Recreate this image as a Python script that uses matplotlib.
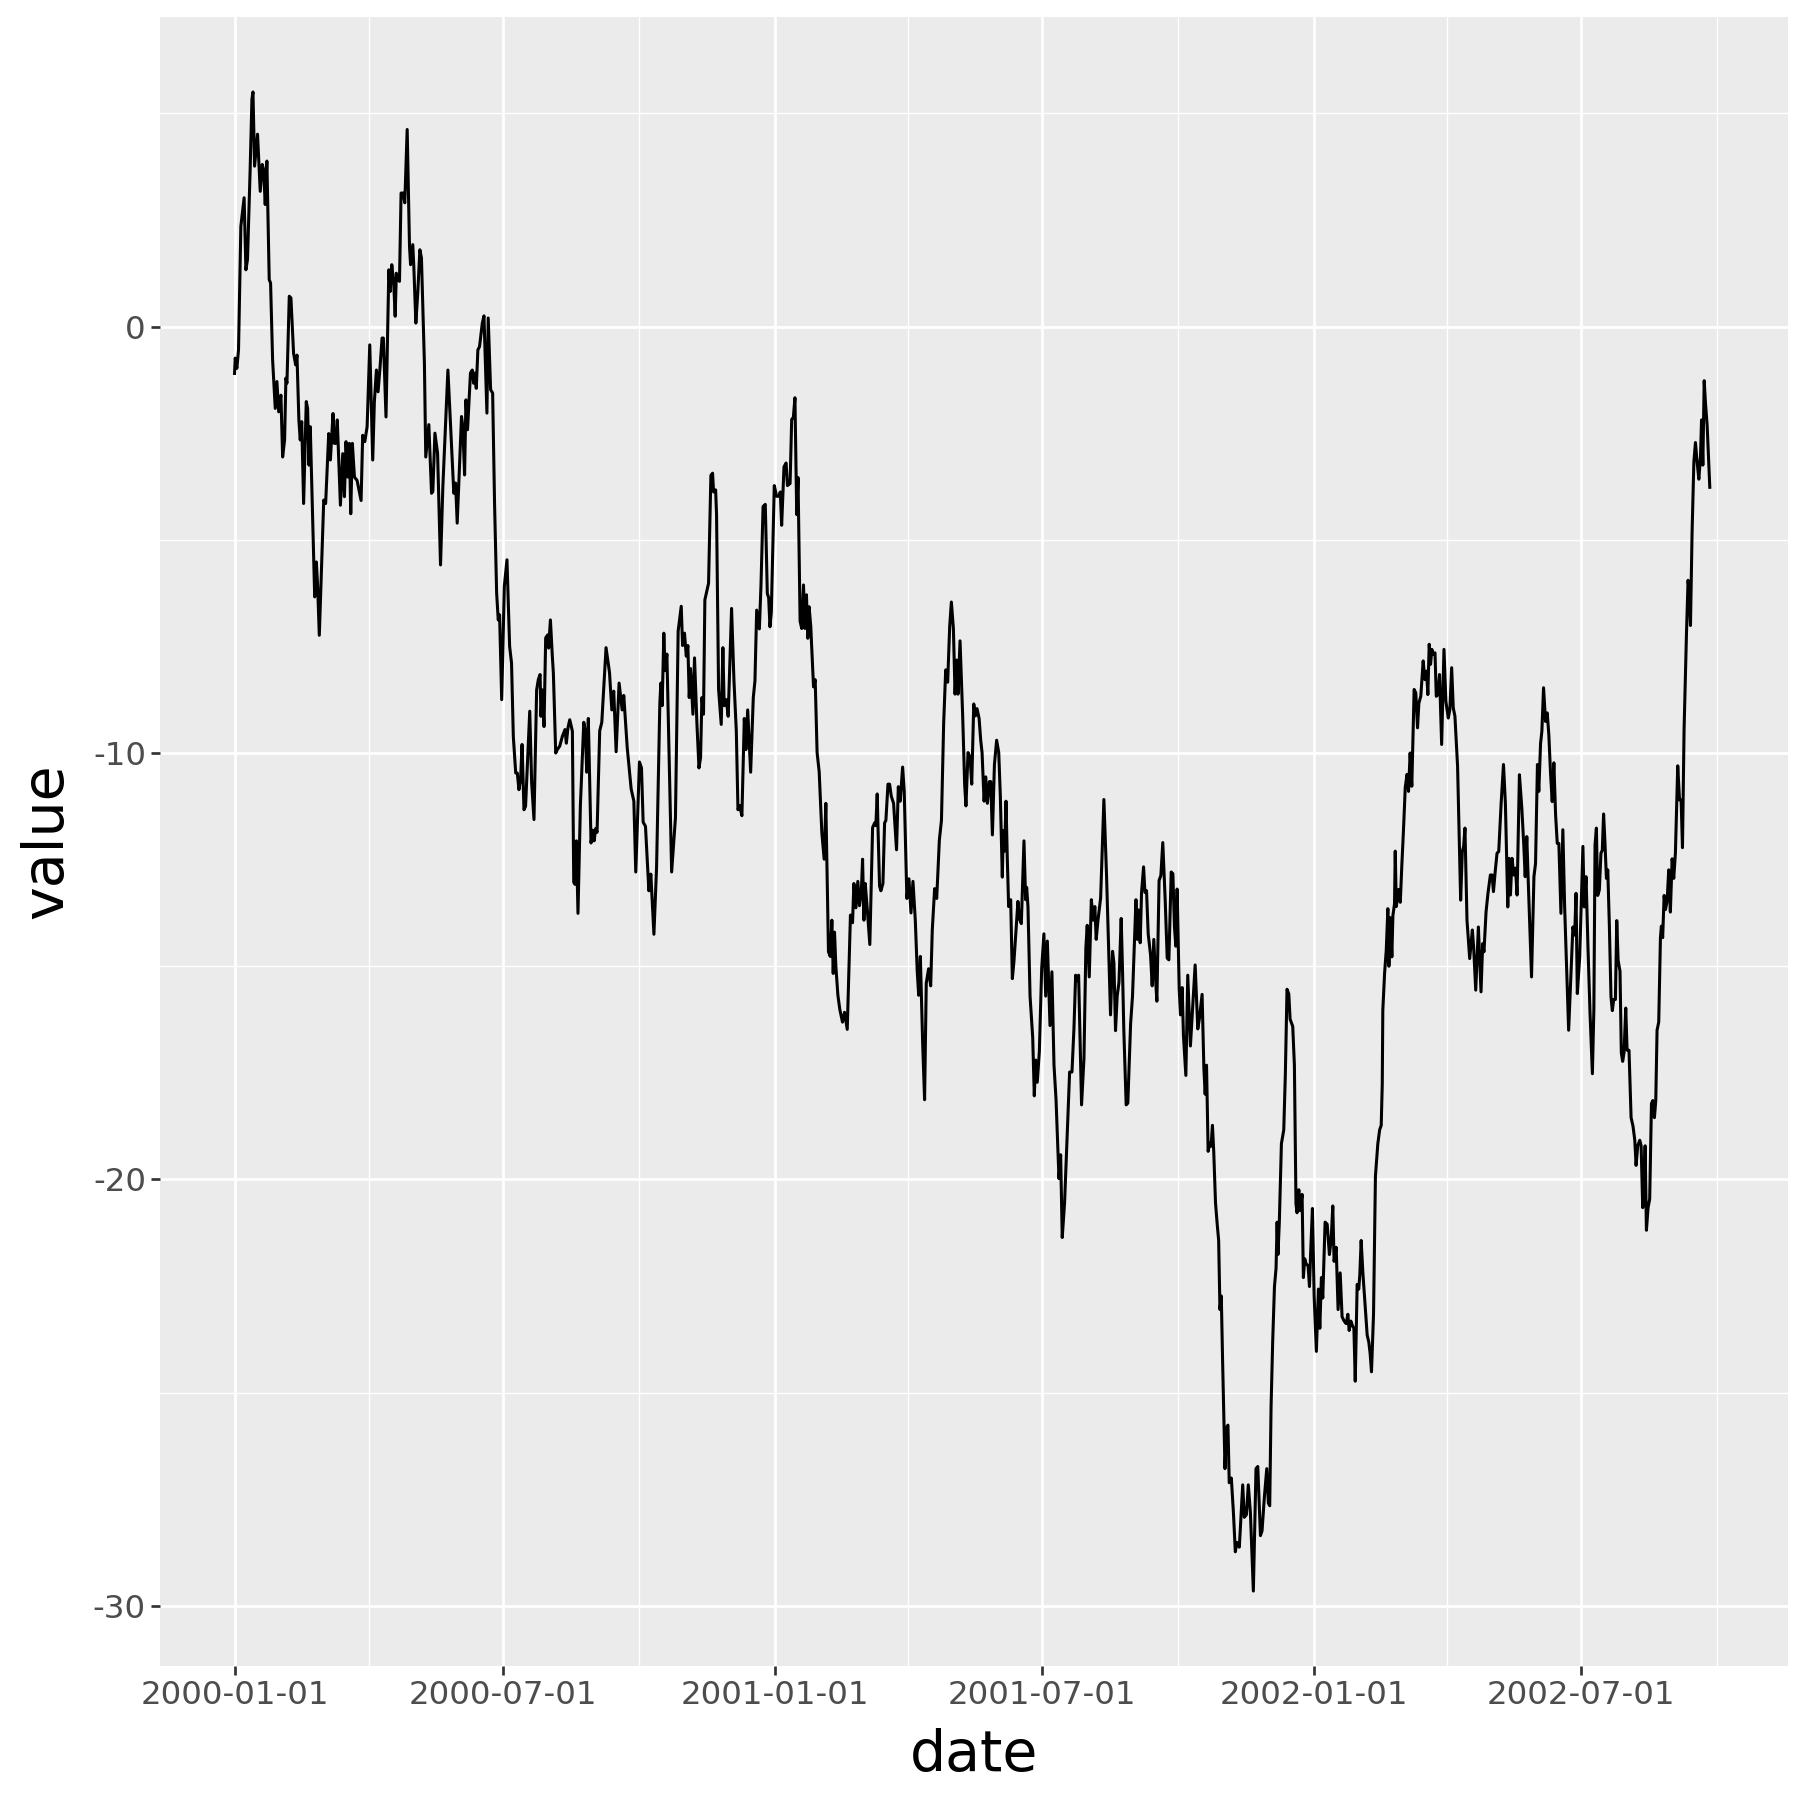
import numpy as np
import matplotlib
matplotlib.use("Agg")
import matplotlib.pyplot as plt
import matplotlib.dates as mdates

plt.rcParams['font.family'] = ['DejaVu Sans']
plt.rcParams['axes.unicode_minus'] = False

START = np.datetime64('2000-01-01')

# ---- data: days since 2000-01-01 and value ----
days_a = [0.0, 0.5, 1.6, 2.7, 4.3, 6.5, 7.7, 8.8, 10.6, 11.8, 12.5, 13.6, 15.6, 17.4, 18.8, 19.7,
          20.8, 21.9, 23.5, 24.4, 25.8, 27.6, 28.7, 29.9, 31.4, 32.6, 33.9, 34.8, 35.5, 37.1, 38.2,
          40.0, 41.4, 42.3, 43.6, 44.5, 45.5, 46.8, 48.6, 49.5, 50.4, 51.3, 54.3, 55.4, 56.3, 57.4,
          60.4, 61.7, 63.8, 64.9, 66.7, 67.6, 68.5, 69.6, 71.7, 73.3, 74.4, 75.5, 76.7, 77.8, 78.7,
          79.8, 81.2, 83.0, 85.7, 86.8, 88.2, 89.8, 91.6, 93.6, 94.7, 96.1, 97.2, 98.6, 99.9, 100.8,
          102.6, 104.5, 105.4, 106.5, 107.8, 108.8, 109.6, 110.6, 111.7, 112.8, 114.2, 115.3, 116.9,
          118.5, 119.2, 120.7, 121.4, 122.8, 124.1, 125.5, 126.6, 128.6, 129.5]
vals_a = [-1.10, -0.74, -0.98, -0.55, 2.35, 3.02, 1.33, 1.57, 3.68, 5.33, 5.50, 3.76, 4.51, 3.17, 3.80, 3.68,
          2.86, 3.88, 1.10, 1.02, -0.78, -1.92, -1.29, -2.00, -1.61, -3.06, -2.66, -1.21, -1.33, 0.71, 0.67,
          -0.63, -0.90, -0.67, -2.19, -2.66, -2.23, -4.15, -1.76, -1.92, -3.25, -2.35, -6.34, -5.52, -6.10, -7.24,
          -4.07, -4.15, -2.51, -3.13, -2.04, -2.74, -2.74, -2.19, -4.19, -2.98, -3.99, -2.70, -3.53, -2.74, -4.39,
          -2.74, -3.53, -3.61, -4.08, -2.55, -2.70, -2.35, -0.43, -3.13, -1.76, -1.02, -1.53, -0.94, -0.27, -0.27,
          -2.12, 1.33, 0.82, 1.45, 1.02, 0.24, 1.25, 1.10, 1.06, 3.13, 3.13, 2.90, 4.62,
          1.88, 1.45, 1.92, 1.41, 0.08, 0.78, 1.80, 1.61, -0.86, -3.06]

days_b = [131.6, 133.4, 134.3, 135.7, 137.5, 139.5, 141.1, 144.5, 148.5, 149.7, 150.8, 153.7, 154.6,
          155.8, 156.7, 157.8, 159.8, 161.0, 161.9, 162.8, 163.7, 164.8, 165.9, 167.8, 168.9, 170.9,
          171.8, 173.4, 174.8, 176.1, 177.5, 178.6, 179.5, 180.9, 182.7, 184.5, 186.3, 187.6, 188.8,
          190.4, 191.5, 192.6, 193.7, 194.7, 196.0, 197.1, 199.9, 201.2, 202.8, 204.6, 205.7, 206.9,
          207.5, 208.4, 209.6, 210.7, 212.1, 212.7, 213.9, 215.2, 215.9, 217.5, 218.6, 220.2, 222.0,
          223.8, 224.7, 225.8, 227.0, 228.8, 229.7, 230.6, 231.5, 232.6, 234.2, 236.5, 237.6, 238.5,
          239.6, 241.4, 242.6, 243.5, 244.6, 245.5, 247.3, 248.7, 251.6, 253.9, 255.5, 256.8, 258.4,
          260.4, 262.5, 263.6, 265.9, 268.6, 270.4, 271.7, 274.2, 275.6, 276.7, 278.3, 280.6, 281.9,
          284.0, 285.8, 288.0, 288.7, 289.6, 290.7, 291.6, 292.8, 296.0, 298.6, 300.4, 302.5, 303.4,
          304.7, 305.9, 307.0, 307.9, 308.8, 310.4, 311.5, 313.1, 314.5, 315.6, 316.5, 317.6, 318.5,
          321.0, 322.6, 323.7, 324.4, 325.8, 326.4, 327.8, 329.6, 330.7, 331.6, 333.0, 334.3, 336.6,
          338.2, 339.8, 340.9, 342.0, 343.6, 345.2, 346.3, 347.5, 349.5, 351.3, 352.4, 353.6, 355.4,
          356.5, 357.9, 359.4, 360.8, 361.7, 362.6, 363.5, 365.5]
vals_b = [-2.30, -3.91, -3.87, -2.50, -2.97, -5.59, -3.75, -1.02, -3.91, -3.67, -4.61, -2.11, -2.34,
          -3.48, -1.72, -2.42, -1.09, -1.02, -1.33, -1.09, -1.45, -0.55, -0.47, 0.08, 0.25, -2.03,
          0.20, -1.48, -1.56, -4.14, -6.25, -6.88, -6.76, -8.75, -6.09, -5.47, -7.50, -7.89, -9.61,
          -10.47, -10.47, -10.86, -10.63, -9.80, -11.33, -11.25, -9.02, -10.70, -11.56, -8.52, -8.28, -8.16,
          -9.14, -8.52, -9.38, -7.30, -7.23, -7.54, -6.88, -7.73, -8.13, -10.00, -9.92, -9.84, -9.61,
          -9.45, -9.77, -9.41, -9.22, -9.49, -13.03, -13.08, -12.06, -13.76, -11.23, -9.28, -9.48, -10.45,
          -9.19, -12.11, -11.81, -12.06, -11.77, -11.86, -9.48, -9.28, -7.53, -8.11, -8.99, -8.55, -9.97,
          -8.36, -8.99, -8.65, -9.87, -10.84, -11.13, -12.79, -10.21, -10.35, -11.62, -11.72, -13.23, -12.84,
          -14.25, -12.69, -8.85, -8.36, -8.89, -7.19, -8.07, -7.68, -12.79, -11.52, -7.14, -6.56, -7.48,
          -7.19, -7.73, -7.48, -8.70, -8.02, -9.09, -7.77, -9.28, -10.35, -10.11, -8.70, -9.09, -6.41,
          -6.02, -3.49, -3.44, -3.88, -3.83, -4.41, -8.51, -9.33, -7.53, -8.89, -8.75, -9.14, -6.61,
          -8.31, -9.48, -11.33, -11.23, -11.47, -9.19, -9.92, -8.99, -10.45, -8.70, -8.31, -6.65, -7.09,
          -6.07, -4.22, -4.17, -6.26, -6.36, -7.04, -6.70, -3.73]

days_c = [367.1, 368.7, 369.6, 370.5, 372.1, 373.5, 374.4, 376.2, 377.3, 378.4, 379.5, 380.7, 381.6,
          383.0, 384.1, 385.3, 386.2, 387.3, 388.2, 389.1, 390.2, 392.1, 393.2, 394.5, 395.9, 397.7,
          399.3, 400.4, 402.2, 403.4, 404.5, 405.4, 406.3, 407.2, 408.6, 409.9, 411.7, 413.1, 414.9,
          417.1, 418.5, 419.4, 420.8, 422.1, 423.2, 424.4, 425.3, 426.2, 427.1, 428.4, 430.2, 432.1,
          433.4, 434.3, 435.2, 435.7, 436.8, 437.7, 439.1, 440.2, 441.1, 442.5, 443.6, 444.7, 446.3,
          448.3, 449.5, 450.8, 452.4, 453.5, 455.3, 456.7, 458.1, 459.4, 461.0, 462.3, 463.3, 464.4,
          466.0, 467.3, 468.4, 470.0, 471.4, 472.5, 474.1, 475.5, 477.3, 478.7, 480.2, 481.6, 482.9,
          484.3, 485.4, 486.8, 487.9, 489.0, 489.9, 491.3, 493.1, 494.4, 495.3, 496.7, 498.1, 499.2,
          500.6, 501.7, 502.8, 504.2, 505.3, 506.2, 507.6, 508.7, 509.8, 511.2, 512.1, 513.2, 514.6,
          516.1, 517.5, 518.6, 519.9, 520.6, 521.5, 522.4, 523.3, 524.2, 525.6, 526.7, 527.8, 530.5,
          531.4, 532.8, 534.6, 535.7, 536.4, 537.3, 538.7, 540.5, 541.6, 542.5, 543.6, 545.0, 546.6,
          548.1, 549.3, 550.4, 552.2, 553.5, 554.9, 556.3, 558.3, 559.4, 560.5, 562.1, 563.9, 565.5,
          567.1, 568.4, 569.6, 570.7, 571.6, 573.6, 575.2, 576.5, 577.4, 578.8, 580.2, 581.5, 582.6,
          583.5, 584.7, 586.5, 588.7, 590.5, 593.2, 594.6, 595.5, 596.6, 597.7, 598.9, 600.4, 601.3,
          602.2, 603.8, 604.9, 606.8, 608.1, 610.4, 611.3, 612.2, 613.3, 614.2, 615.6, 616.5, 617.6,
          618.7, 620.3, 621.4, 622.5, 623.7, 624.6, 626.1, 627.3, 628.6, 630.2, 631.6, 632.7, 634.3,
          635.4, 636.5, 637.4, 638.3, 639.7, 640.6, 641.7, 642.6, 644.2, 645.5, 647.3, 648.7, 650.5,
          652.3, 653.4, 655.2, 656.4, 657.3, 658.2, 659.3, 660.4, 661.3, 662.2, 663.1, 664.3, 665.4]
vals_c = [-3.98, -3.98, -3.88, -4.66, -3.29, -3.20, -3.73, -3.68, -2.18, -2.13, -1.67, -4.41, -3.54,
          -6.91, -7.08, -6.06, -7.08, -6.29, -7.31, -6.57, -7.03, -8.45, -8.28, -9.99, -10.44, -11.87,
          -12.49, -11.18, -14.66, -14.77, -13.92, -15.17, -14.20, -15.00, -15.68, -16.02, -16.31, -16.08, -16.48,
          -13.80, -13.98, -13.06, -13.63, -13.01, -13.58, -13.29, -12.49, -13.92, -13.06, -13.63, -14.49, -11.75,
          -11.64, -11.70, -10.96, -11.70, -13.12, -13.23, -13.06, -11.64, -11.58, -10.73, -10.73, -11.01, -11.18,
          -12.27, -10.79, -11.13, -10.33, -10.90, -13.41, -12.95, -13.75, -13.01, -13.92, -15.11, -15.68, -14.77,
          -16.82, -18.13, -15.40, -15.06, -15.46, -14.15, -13.18, -13.41, -12.04, -11.58, -9.30, -8.05, -8.34,
          -7.03, -6.46, -7.08, -8.62, -7.82, -8.62, -7.37, -9.13, -10.73, -11.24, -9.99, -10.10, -10.73,
          -8.85, -9.13, -8.96, -9.19, -9.70, -9.99, -11.13, -10.56, -11.18, -10.67, -10.67, -11.92, -10.27,
          -9.70, -9.99, -11.01, -12.91, -11.82, -12.30, -11.13, -12.47, -13.60, -13.44, -15.29, -14.89, -13.48,
          -13.88, -14.00, -12.06, -13.44, -13.15, -13.60, -15.70, -16.67, -18.04, -17.20, -17.72, -17.00, -15.05,
          -14.24, -15.70, -14.41, -16.39, -15.13, -17.32, -18.12, -19.98, -19.42, -21.36, -20.55, -18.93, -17.48,
          -17.48, -16.47, -15.21, -15.34, -15.21, -18.25, -17.16, -14.57, -14.04, -15.25, -13.44, -13.92, -13.60,
          -14.37, -13.92, -13.40, -11.09, -12.87, -16.14, -14.65, -14.93, -16.51, -15.70, -15.38, -13.88, -15.05,
          -16.51, -18.25, -18.21, -16.35, -15.70, -13.44, -14.37, -13.68, -14.45, -13.27, -12.67, -13.27, -13.23,
          -14.24, -14.73, -15.46, -14.37, -15.30, -15.82, -12.99, -12.87, -12.10, -13.44, -14.81, -14.85, -12.79,
          -12.83, -14.08, -14.53, -13.19, -15.54, -16.14, -15.50, -16.63, -17.56, -15.21, -16.87, -16.02, -14.97,
          -16.47, -16.22, -15.66, -17.40, -18.00, -17.32, -19.34, -19.14, -19.22, -18.73, -19.34, -20.55, -21.04]

days_d = [666.4, 667.3, 668.2, 669.1, 670.7, 671.8, 672.7, 673.6, 675.0, 676.4, 677.7, 678.8, 680.4,
          682.7, 683.8, 685.2, 686.5, 687.9, 689.9, 691.7, 692.9, 694.7, 695.8, 697.4, 699.0, 700.1,
          701.0, 701.9, 703.0, 704.2, 705.3, 706.0, 706.6, 707.5, 708.9, 710.5, 711.6, 712.7, 713.9,
          714.8, 716.6, 717.7, 718.8, 719.5, 720.7, 721.6, 722.9, 723.8, 724.7, 725.6, 727.0, 727.9,
          728.8, 729.9, 731.1, 732.6, 734.0, 734.9, 736.0, 736.9, 738.5, 739.9, 741.4, 742.6, 743.7,
          744.6, 746.0, 747.3, 748.7, 750.0, 751.4, 752.8, 753.9, 754.8, 755.9, 757.1, 758.0, 758.9,
          760.2, 761.3, 762.0, 762.9, 764.1, 765.6, 767.0, 768.1, 769.0, 769.9, 771.3, 772.6, 774.2,
          775.4, 776.5, 777.2, 777.6, 778.8, 779.9, 781.0, 781.7, 782.6, 783.7, 784.4, 785.5, 786.0,
          786.7, 788.3, 789.4, 790.5, 791.6, 792.8, 794.0, 795.0]
vals_d = [-21.43, -23.05, -22.73, -24.24, -26.78, -25.81, -25.76, -27.11, -27.00, -27.81, -28.73, -28.51, -28.62,
          -27.16, -27.92, -27.86, -27.16, -27.81, -29.65, -26.78, -26.73, -28.35, -28.24, -27.43, -26.78, -27.59,
          -27.65, -25.32, -23.81, -22.51, -22.08, -21.00, -21.76, -21.00, -19.16, -18.84, -17.54, -15.54, -15.65,
          -16.24, -16.41, -17.32, -20.57, -20.78, -20.24, -20.73, -20.35, -22.30, -21.86, -21.97, -22.03, -22.51,
          -21.65, -20.68, -22.73, -24.03, -22.57, -23.49, -22.30, -22.78, -21.00, -21.05, -21.76, -21.43, -20.62,
          -21.92, -21.59, -23.05, -22.19, -23.22, -23.32, -23.38, -23.16, -23.54, -23.32, -23.43, -23.49, -24.73,
          -22.46, -22.57, -22.24, -21.43, -22.19, -22.95, -23.65, -23.81, -24.08, -24.51, -23.16, -19.92, -19.16,
          -18.84, -18.73, -17.76, -16.03, -15.16, -14.62, -13.65, -15.00, -13.86, -14.78, -13.81, -13.54, -12.30,
          -13.60, -13.20, -13.50, -12.60, -11.80, -10.80, -10.50, -10.90]

days_e = [796.1, 797.2, 798.8, 799.9, 801.1, 802.0, 803.3, 804.9, 806.1, 807.2, 808.1, 809.0, 809.9,
          810.8, 811.7, 812.9, 813.8, 814.9, 816.0, 817.4, 819.0, 820.3, 821.9, 823.0, 824.2, 825.3,
          826.4, 828.2, 829.4, 830.3, 831.4, 832.3, 833.2, 834.6, 836.4, 838.2, 839.1, 840.5, 842.3,
          844.1, 845.2, 846.1, 847.5, 848.8, 850.4, 851.6, 852.5, 853.6, 854.9, 856.1, 857.7, 859.3,
          860.6, 862.2, 863.1, 864.0, 865.1, 866.3, 867.4, 868.5, 870.1, 871.7, 873.1, 874.0, 875.1,
          876.0, 878.3, 879.9, 881.0, 882.3, 883.2, 884.4, 885.3, 886.4, 887.8, 888.9, 890.0, 891.2,
          892.3, 893.4, 894.6, 895.7, 896.8, 898.2, 899.5, 900.7, 903.4, 904.8, 906.3, 907.5, 908.4,
          909.3, 910.9, 912.0, 913.1, 914.0, 915.2, 916.5, 917.9, 919.5, 920.5, 921.3, 922.2, 923.1,
          924.2, 925.3, 926.2, 927.1, 928.0, 929.0, 929.9, 931.0, 932.1, 933.0, 933.9, 935.1, 936.0,
          936.9, 938.2, 939.1, 940.0, 940.9, 942.1, 943.0, 944.3, 945.7, 947.0, 948.2, 949.1, 950.2,
          951.6, 952.5, 953.6, 954.3, 955.2, 956.1, 957.2, 958.3, 959.5, 960.4, 961.5, 962.4, 963.3,
          964.4, 965.6, 966.2, 967.1, 968.1, 969.0, 970.1, 971.2, 972.3, 973.5, 974.6, 975.7, 977.3,
          978.5, 979.6, 980.5, 981.6, 983.2, 984.3, 985.0, 985.9, 987.0, 988.2, 989.3, 990.4, 991.6,
          992.7, 993.4, 994.3, 995.2, 996.1, 997.2, 999.0]
vals_e = [-10.00, -10.78, -8.51, -8.59, -9.41, -8.83, -8.67, -7.84, -8.28, -8.08, -8.63, -7.45, -7.92,
          -7.57, -7.69, -7.65, -8.67, -8.63, -8.16, -9.80, -7.57, -8.79, -9.18, -8.98, -8.00, -8.94,
          -9.14, -10.31, -12.12, -13.45, -12.31, -12.19, -11.76, -13.92, -14.82, -14.15, -14.55, -15.56, -14.08,
          -15.60, -14.47, -14.66, -13.72, -13.29, -12.86, -12.86, -13.25, -12.82, -12.35, -12.31, -11.18, -10.27,
          -11.18, -13.61, -12.47, -13.33, -12.47, -12.86, -12.70, -13.33, -10.51, -11.29, -12.19, -12.90, -11.96,
          -12.94, -15.25, -12.90, -12.59, -10.27, -10.90, -9.77, -9.49, -8.47, -9.26, -9.06, -9.57, -10.51,
          -11.14, -10.23, -11.45, -12.12, -12.12, -13.76, -11.80, -13.61, -16.50, -15.33, -14.08, -14.27, -13.29,
          -15.64, -14.78, -13.49, -12.19, -13.61, -12.90, -14.55, -16.11, -17.52, -16.00, -12.15, -11.76, -13.34,
          -13.21, -12.35, -12.28, -11.43, -12.09, -12.94, -12.74, -14.06, -15.71, -16.04, -15.78, -15.78, -13.93,
          -14.86, -15.12, -17.03, -17.23, -17.03, -15.98, -16.97, -16.97, -18.55, -18.75, -19.08, -19.67, -19.21,
          -19.08, -19.21, -20.66, -20.33, -19.21, -21.19, -20.66, -20.46, -18.22, -18.15, -18.55, -18.15, -16.50,
          -16.31, -14.33, -14.06, -14.33, -13.34, -13.67, -13.47, -12.74, -13.73, -12.48, -12.94, -12.35, -10.30,
          -11.10, -11.10, -12.22, -9.45, -7.20, -5.95, -6.21, -7.01, -4.83, -3.18, -2.72, -3.18, -3.58,
          -3.05, -2.19, -3.25, -1.27, -1.80, -2.32, -3.77]

x_major_ticks = ['2000-01-01', '2000-07-01', '2001-01-01', '2001-07-01', '2002-01-01', '2002-07-01']
x_minor_ticks = ['2000-04-01', '2000-10-01', '2001-04-01', '2001-10-01', '2002-04-01', '2002-10-01']
y_major_ticks = [-30, -20, -10, 0]
y_minor_ticks = [-25, -15, -5, 5]

days = np.concatenate([days_a, days_b, days_c, days_d, days_e])
values = np.concatenate([vals_a, vals_b, vals_c, vals_d, vals_e])
dates = START + np.round(days * 24).astype('timedelta64[h]')

# ---- figure ----
W = H = 1800
fig = plt.figure(figsize=(18, 18), dpi=100)
fig.patch.set_facecolor('white')
pl, pr, pt, pb = 160, 1788, 17, 1666
ax = fig.add_axes([pl / W, 1 - pb / H, (pr - pl) / W, (pb - pt) / H])
ax.set_facecolor('#EBEBEB')
for s in ax.spines.values():
    s.set_visible(False)

ax.plot(dates, values, color='black', linewidth=2.2, solid_joinstyle='round', zorder=3)

# limits with ggplot-like 5% expansion (slightly wider on the right to match reference scale)
dmin, dmax = days.min(), days.max()
dr = dmax - dmin
x0 = START + np.round((dmin - 0.05 * dr - 0.5) * 24).astype('timedelta64[h]')
x1 = START + np.round((dmax + 0.05 * dr + 3.0) * 24).astype('timedelta64[h]')
ax.set_xlim(x0, x1)
vr = values.max() - values.min()
ax.set_ylim(values.min() - 0.05 * vr, values.max() + 0.05 * vr)

ax.set_xticks([np.datetime64(t) for t in x_major_ticks])
ax.set_xticks([np.datetime64(t) for t in x_minor_ticks], minor=True)
ax.xaxis.set_major_formatter(mdates.DateFormatter('%Y-%m-%d'))
ax.set_yticks(y_major_ticks)
ax.set_yticks(y_minor_ticks, minor=True)
ax.set_yticklabels([str(v) for v in y_major_ticks])

ax.grid(True, which='major', color='white', linewidth=1.95, zorder=1)
ax.grid(True, which='minor', color='white', linewidth=1.0, zorder=1)
ax.set_axisbelow(True)

ax.tick_params(which='major', length=6.7, width=1.95, color='#333333',
               labelsize=23.4, labelcolor='#4D4D4D')
ax.tick_params(axis='x', which='major', pad=3.5)
ax.tick_params(axis='y', which='major', pad=3.4)
ax.tick_params(which='minor', length=0)

ax.set_xlabel('date', fontsize=41, color='black')
ax.xaxis.set_label_coords((pl + pr) / 2 / W, 1 - 1771 / H, transform=fig.transFigure)
ax.xaxis.label.set_va('baseline')
ax.set_ylabel('value', fontsize=41, color='black')
ax.yaxis.set_label_coords(47 / W, 1 - (pt + pb) / 2 / H, transform=fig.transFigure)
ax.yaxis.label.set_va('center')
ax.yaxis.label.set_ha('center')

fig.savefig('out.png', dpi=100)
